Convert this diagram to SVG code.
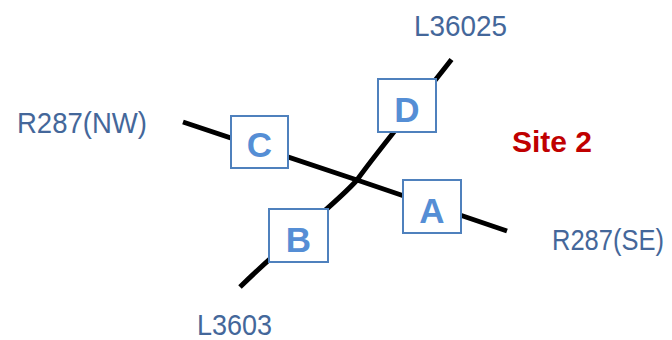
<svg xmlns="http://www.w3.org/2000/svg" width="672" height="340" viewBox="0 0 672 340">
<style>
.road{fill:none;stroke:#000;stroke-width:5;stroke-linejoin:round}
.box{fill:#fff;stroke:#4f81bd;stroke-width:2}
.lt{font-family:"Liberation Sans",Arial,sans-serif;font-weight:bold;font-size:35px;fill:#558ed5;text-anchor:middle}
.lbl{font-family:"Liberation Sans",Arial,sans-serif;font-size:30px;fill:#44679a}
.site{font-family:"Liberation Sans",Arial,sans-serif;font-weight:bold;font-size:30px;fill:#c00000}
</style>
<rect width="672" height="340" fill="#fff"/>
<g id="connectors">
<path class="road" d="M183,122 L357,180 L507,231"/>
<path class="road" d="M451.5,59.5 C420,100 380,148 357,180 C335,205 290,238 240,287"/>
</g>
<g id="C"><rect class="box" x="231" y="116" width="57" height="52"/><text class="lt" x="259.5" y="157">C</text></g>
<g id="D"><rect class="box" x="378" y="79" width="58" height="53"/><text class="lt" x="407" y="121.5">D</text></g>
<g id="A"><rect class="box" x="403" y="180" width="58" height="53"/><text class="lt" x="432" y="222.5">A</text></g>
<g id="B"><rect class="box" x="269" y="209" width="59" height="53"/><text class="lt" x="298.5" y="251.5">B</text></g>
<g id="labels">
<text class="lbl" transform="translate(414,36) scale(0.93,1)">L36025</text>
<text class="lbl" transform="translate(17,133) scale(0.917,1)">R287(NW)</text>
<text class="lbl" transform="translate(552,250) scale(0.85,1)">R287(SE)</text>
<text class="lbl" transform="translate(197,335) scale(0.9,1)">L3603</text>
<text class="site" x="512" y="152">Site 2</text>
</g>
</svg>
